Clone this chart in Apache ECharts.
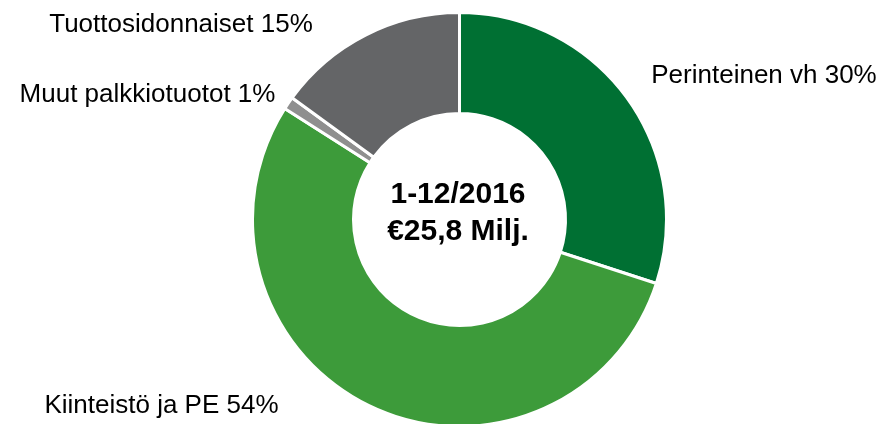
<!DOCTYPE html>
<html>
<head>
<meta charset="utf-8">
<style>
  html, body { margin: 0; padding: 0; background: #fff; }
  #chart { width: 881px; height: 424px; }
</style>
<script src="https://cdn.jsdelivr.net/npm/echarts@6/dist/echarts.min.js"></script>
</head>
<body>
<div id="chart"></div>
<script>
// jakauma 1-12/2016, osuudet prosentteina
const categories = ['Perinteinen vh', 'Kiinteistö ja PE', 'Muut palkkiotuotot', 'Tuottosidonnaiset']
const shares = [30, 54, 1, 15]
const colors = ['#007033', '#3d9b3a', '#8f8f8f', '#646567']
const centerLines = ['1-12/2016', '€25,8 Milj.']

// label anchor points (center of text)
const labelPos = [
  [764, 75.5],
  [161.5, 406],
  [147.5, 94.5],
  [181, 24.5]
]

const myChart = echarts.init(document.getElementById('chart'))

const option = {
  animation: false,
  color: colors,
  graphic: [
    {
      type: 'text',
      x: 458,
      y: 213,
      style: {
        text: centerLines.join('\n'),
        font: 'bold 30px "Liberation Sans", Arial, sans-serif',
        lineHeight: 37,
        fill: '#000',
        align: 'center',
        verticalAlign: 'middle'
      }
    }
  ],
  series: [
    {
      type: 'pie',
      center: [459.5, 219.5],
      radius: [106, 207],
      startAngle: 90,
      clockwise: true,
      avoidLabelOverlap: false,
      itemStyle: {
        borderColor: '#fff',
        borderWidth: 3
      },
      label: {
        show: true,
        position: 'outside',
        formatter: p => p.name + ' ' + p.value + '%',
        color: '#000',
        fontFamily: '"Liberation Sans", Arial, sans-serif',
        fontSize: 26
      },
      labelLine: { show: false },
      labelLayout: params => ({
        x: labelPos[params.dataIndex][0],
        y: labelPos[params.dataIndex][1],
        align: 'center',
        verticalAlign: 'middle'
      }),
      emphasis: { disabled: true },
      data: categories.map((name, i) => ({ name, value: shares[i] }))
    }
  ]
}

myChart.setOption(option)
</script>
</body>
</html>
